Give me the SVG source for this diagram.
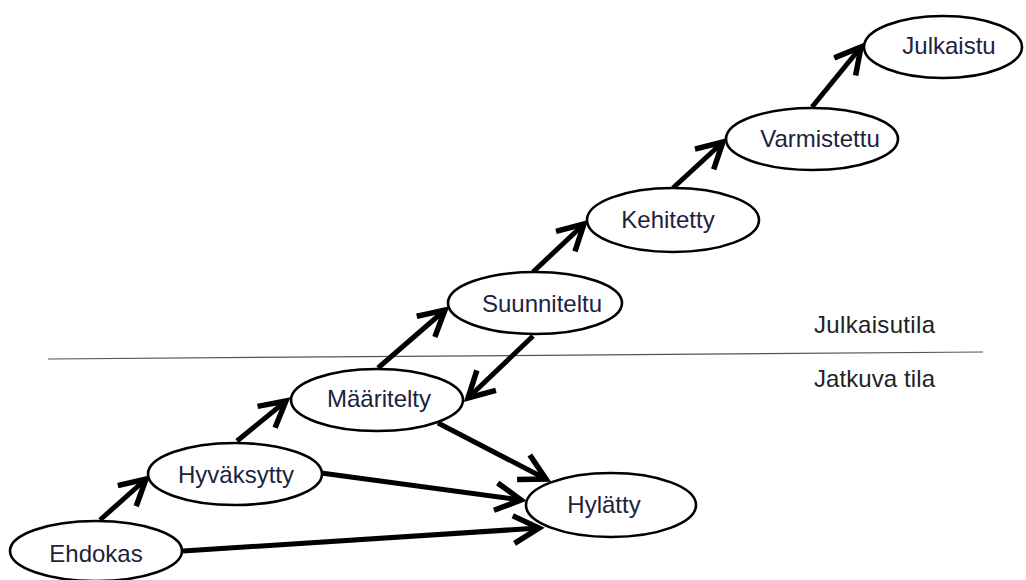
<svg xmlns="http://www.w3.org/2000/svg" width="1026" height="580" viewBox="0 0 1026 580">
  <style>
    .state ellipse { fill: #ffffff; stroke: #000000; stroke-width: 2.6; }
    .state text, .zone { font-family: "Liberation Sans", Arial, sans-serif; font-size: 24px; fill: #1c2340; text-anchor: middle; }
    .zone { text-anchor: start; font-size: 24px; fill: #222222; }
    .edge { stroke: #000000; stroke-width: 5; fill: none; marker-end: url(#head); }
  </style>
  <defs>
    <marker id="head" markerUnits="userSpaceOnUse" viewBox="-30 -16 34 32" refX="0" refY="0" markerWidth="34" markerHeight="32" orient="auto" overflow="visible">
      <path d="M-23,-12.5 L0,0 L-23,12.5" fill="none" stroke="#000000" stroke-width="5.5" stroke-linejoin="miter" stroke-linecap="square"/>
    </marker>
  </defs>

  <rect width="1026" height="580" fill="#ffffff"/>

  <!-- boundary between the two state zones -->
  <line x1="48" y1="359" x2="983" y2="352" stroke="#555555" stroke-width="1.2"/>
  <text class="zone" x="814" y="333" textLength="121">Julkaisutila</text>
  <text class="zone" x="814" y="387" textLength="121">Jatkuva tila</text>

  <!-- transitions -->
  <g id="connectors">
    <line class="edge" x1="100" y1="520" x2="146" y2="479"/>
    <line class="edge" x1="237" y1="441" x2="286" y2="401"/>
    <line class="edge" x1="378" y1="368" x2="445" y2="310"/>
    <line class="edge" x1="533" y1="272" x2="584" y2="224"/>
    <line class="edge" x1="673" y1="188" x2="723" y2="142"/>
    <line class="edge" x1="812" y1="107" x2="861" y2="47"/>
    <line class="edge" x1="533" y1="336" x2="468" y2="398"/>
    <line class="edge" x1="438" y1="423" x2="546" y2="479"/>
    <line class="edge" x1="321" y1="473" x2="521" y2="500"/>
    <line class="edge" x1="183" y1="551" x2="539" y2="528"/>
  </g>

  <g id="ehdokas" class="state">
    <ellipse cx="96" cy="551" rx="86" ry="30"/>
    <text x="96" y="562">Ehdokas</text>
  </g>
  <g id="hyvaksytty" class="state">
    <ellipse cx="235" cy="474" rx="87" ry="31"/>
    <text x="236" y="483">Hyväksytty</text>
  </g>
  <g id="maaritelty" class="state">
    <ellipse cx="377" cy="400" rx="86" ry="31"/>
    <text x="379" y="407">Määritelty</text>
  </g>
  <g id="suunniteltu" class="state">
    <ellipse cx="535" cy="303" rx="87" ry="31"/>
    <text x="542" y="312">Suunniteltu</text>
  </g>
  <g id="hylatty" class="state">
    <ellipse cx="611" cy="505" rx="85" ry="32"/>
    <text x="604" y="513">Hylätty</text>
  </g>
  <g id="kehitetty" class="state">
    <ellipse cx="673" cy="220" rx="86" ry="32"/>
    <text x="668" y="228">Kehitetty</text>
  </g>
  <g id="varmistettu" class="state">
    <ellipse cx="812" cy="139" rx="86" ry="31"/>
    <text x="820" y="147">Varmistettu</text>
  </g>
  <g id="julkaistu" class="state">
    <ellipse cx="943" cy="47" rx="79" ry="31"/>
    <text x="949" y="54">Julkaistu</text>
  </g>
</svg>
